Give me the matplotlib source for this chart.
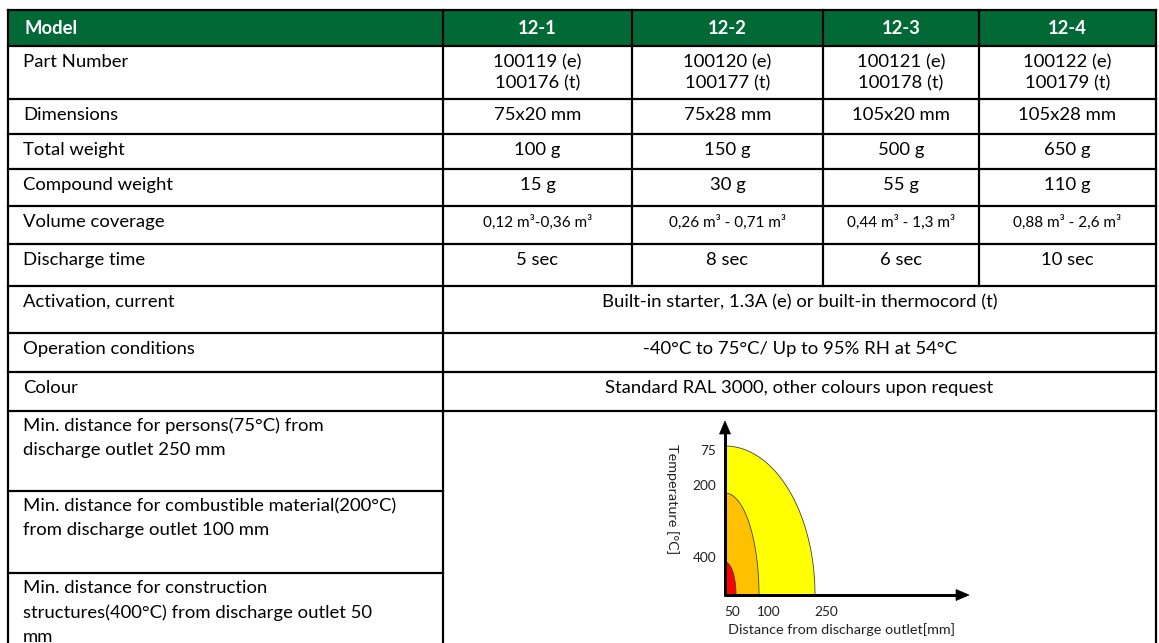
import matplotlib
matplotlib.use('Agg')
import matplotlib.pyplot as plt
import numpy as np
from matplotlib.patches import Rectangle, Polygon

plt.rcParams['font.family'] = ['Lato', 'DejaVu Sans']

# ---------------- data ----------------
header_label = 'Model'
models = ['12-1', '12-2', '12-3', '12-4']
row_labels = ['Part Number', 'Dimensions', 'Total weight', 'Compound weight',
              'Volume coverage', 'Discharge time', 'Activation, current',
              'Operation conditions', 'Colour']
part_numbers_e = ['100119 (e)', '100120 (e)', '100121 (e)', '100122 (e)']
part_numbers_t = ['100176 (t)', '100177 (t)', '100178 (t)', '100179 (t)']
dimensions = ['75x20 mm', '75x28 mm', '105x20 mm', '105x28 mm']
total_weight = ['100 g', '150 g', '500 g', '650 g']
compound_weight = ['15 g', '30 g', '55 g', '110 g']
volume_coverage = ['0,12 m³-0,36 m³', '0,26 m³ - 0,71 m³',
                   '0,44 m³ - 1,3 m³', '0,88 m³ - 2,6 m³']
discharge_time = ['5 sec', '8 sec', '6 sec', '10 sec']
activation = 'Built-in starter, 1.3A (e) or built-in thermocord (t)'
operation = '-40°C to 75°C/ Up to 95% RH at 54°C'
colour = 'Standard RAL 3000, other colours upon request'
safety_labels = [
    ['Min. distance for persons(75°C) from', 'discharge outlet 250 mm'],
    ['Min. distance for combustible material(200°C)', 'from discharge outlet 100 mm'],
    ['Min. distance for construction', 'structures(400°C) from discharge outlet 50', 'mm'],
]
zone_distance_mm = [250, 100, 50]
zone_temperature_c = [75, 200, 400]
zone_colors = ['#FFFF00', '#FFC000', '#FF0000']
x_axis_label = 'Distance from discharge outlet[mm]'
y_axis_label = 'Temperature [°C]'

# ---------------- layout (pixels) ----------------
W, H = 1159, 643
fig = plt.figure(figsize=(W / 100, H / 100), dpi=100)
ax = fig.add_axes([0, 0, 1, 1])
ax.set_xlim(0, W)
ax.set_ylim(H, 0)
ax.axis('off')

px = 72 / 100  # points per pixel
GREEN = '#006935'
col_x = [8, 443, 632, 823, 979, 1156]
row_y = [10, 46, 99, 134, 169, 206, 244, 286, 333, 372, 411, 491, 573, 660]

FS = 13.3   # main font size (pt)
FS_SMALL = 11.0

# header fill
ax.add_patch(Rectangle((col_x[0], row_y[0]), col_x[-1] - col_x[0], row_y[1] - row_y[0],
                       facecolor=GREEN, edgecolor='none', zorder=1))

lw = 2.2 * px
def hline(y, x0, x1):
    ax.plot([x0, x1], [y, y], color='black', lw=lw, solid_capstyle='projecting', zorder=5)
def vline(x, y0, y1):
    ax.plot([x, x], [y0, y1], color='black', lw=lw, solid_capstyle='projecting', zorder=5)

# horizontal lines
for i, y in enumerate(row_y[:-1]):
    if i <= 10:
        hline(y, col_x[0], col_x[-1])
    else:
        hline(y, col_x[0], col_x[1])
# vertical lines
vline(col_x[0], row_y[0], H + 5)
vline(col_x[1], row_y[0], H + 5)
vline(col_x[-1], row_y[0], H + 5)
for c in col_x[2:5]:
    vline(c, row_y[0], row_y[7])

centers = [(col_x[j] + col_x[j + 1]) / 2 for j in range(1, 5)]

# header text
ax.text(col_x[0] + 16, (row_y[0] + row_y[1]) / 2, header_label, color='white',
        fontsize=FS, fontweight='bold', va='center', ha='left', zorder=6)
for cx, m in zip(centers, models):
    ax.text(cx, (row_y[0] + row_y[1]) / 2, m, color='white', fontsize=FS,
            fontweight='bold', va='center', ha='center', zorder=6)

TOP = 16
# row labels
for i, lab in enumerate(row_labels):
    ax.text(col_x[0] + 15, row_y[i + 1] + TOP, lab, fontsize=FS, va='center',
            ha='left', color='black', zorder=6)

# data rows
rows_vals = [None, dimensions, total_weight, compound_weight, volume_coverage, discharge_time]
for cx, e, t in zip(centers, part_numbers_e, part_numbers_t):
    ax.text(cx, row_y[1] + TOP, e, fontsize=FS, ha='center', va='center', zorder=6)
    ax.text(cx, row_y[1] + TOP + 21, t, fontsize=FS, ha='center', va='center', zorder=6)
for r in range(1, 6):
    vals = rows_vals[r]
    fs = FS_SMALL if r == 4 else FS
    for cx, v in zip(centers, vals):
        ax.text(cx, row_y[r + 1] + TOP, v, fontsize=fs, ha='center', va='center', zorder=6)

merged_cx = (col_x[1] + col_x[-1]) / 2
for r, txt in zip([6, 7, 8], [activation, operation, colour]):
    ax.text(merged_cx, row_y[r + 1] + TOP, txt, fontsize=FS, ha='center', va='center', zorder=6)

# safety labels
for k, lines in enumerate(safety_labels):
    for j, line in enumerate(lines):
        ax.text(col_x[0] + 15, row_y[10 + k] + 15 + 24.5 * j, line, fontsize=FS,
                ha='left', va='center', zorder=6)

# ---------------- schematic chart ----------------
ox, oy = 725, 595
zone_half_w = [90, 34, 11]
zone_half_h = [149, 102, 33]
theta = np.linspace(0, np.pi / 2, 200)
for d, t, c, a, b in zip(zone_distance_mm, zone_temperature_c, zone_colors, zone_half_w, zone_half_h):
    xs = ox + a * np.cos(theta)
    ys = oy - b * np.sin(theta)
    pts = np.column_stack([np.r_[ox, xs], np.r_[oy, ys]])
    ax.add_patch(Polygon(pts, closed=True, facecolor=c, edgecolor='#3a3a3a',
                         lw=0.8 * px, zorder=3))
    # x tick label
    ax.text(ox + a + {250: 11, 100: 10, 50: -4}[d], 612, str(d), fontsize=9.8,
            ha='center', va='center', color='#222222', zorder=6)
    # y tick label
    ax.text(716, oy - b + {75: 5, 200: -7, 400: -4}[t], str(t), fontsize=9.8,
            ha='right', va='center', color='#222222', zorder=6)

# axes arrows
alw = 3.0 * px
ax.plot([ox, ox], [oy + 1, 433], color='black', lw=alw, zorder=4, solid_capstyle='butt')
ax.plot([ox - 1, 957], [oy, oy], color='black', lw=alw, zorder=4, solid_capstyle='butt')
ax.add_patch(Polygon([[ox, 421], [ox - 5.5, 434], [ox + 5.5, 434]], closed=True,
                     facecolor='black', edgecolor='black', lw=0.5, zorder=4))
ax.add_patch(Polygon([[969, oy], [956, oy - 5.5], [956, oy + 5.5]], closed=True,
                     facecolor='black', edgecolor='black', lw=0.5, zorder=4))

ax.text(841, 630, x_axis_label, fontsize=10.4, ha='center', va='center',
        color='#222222', zorder=6)
ax.text(672, 499, y_axis_label, fontsize=10.4, ha='center', va='center',
        rotation=-90, color='#222222', zorder=6)

fig.savefig('out.png', dpi=100, facecolor='white')
